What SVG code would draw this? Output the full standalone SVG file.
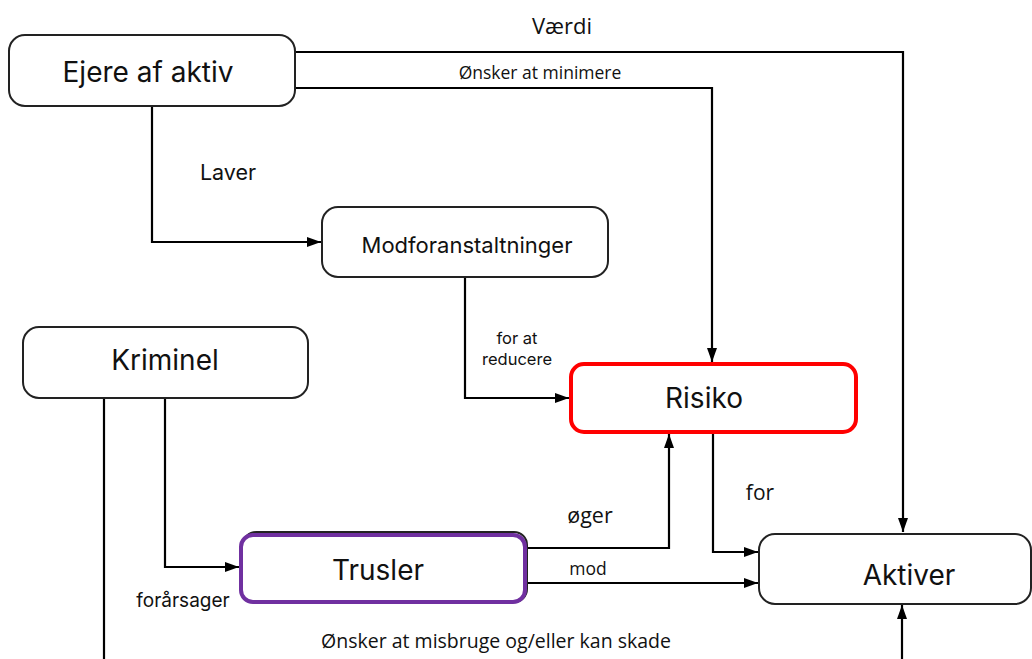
<svg xmlns="http://www.w3.org/2000/svg" width="1032" height="659" viewBox="0 0 1032 659">
<style>
.box{fill:#fff;stroke:#222;stroke-width:2}
.nl{font-family:Inter,"Noto Sans",sans-serif;fill:#111;text-anchor:middle;dominant-baseline:central}
.cl{font-family:"Open Sans","Noto Sans",sans-serif;fill:#111;text-anchor:middle;dominant-baseline:central}
.il{font-family:Inter,"Noto Sans",sans-serif}
.ln{fill:none;stroke:#000;stroke-width:2.2}
</style>
<defs>
<marker id="ar" viewBox="0 0 14 10" refX="14" refY="5" markerWidth="14" markerHeight="10" markerUnits="userSpaceOnUse" orient="auto">
<path d="M0,0 L14,5 L0,10 Z" fill="#000"/>
</marker>
</defs>
<rect width="1032" height="659" fill="#fff"/>
<g id="connectors">
<path class="ln" d="M295,52 H903 V532" marker-end="url(#ar)"/>
<path class="ln" d="M295,88 H712 V362" marker-end="url(#ar)"/>
<path class="ln" d="M152,106 V242 H321" marker-end="url(#ar)"/>
<path class="ln" d="M465,277 V398 H569" marker-end="url(#ar)"/>
<path class="ln" d="M104,396 V659"/>
<path class="ln" d="M165,398 V567 H239" marker-end="url(#ar)"/>
<path class="ln" d="M527,548 H669 V434" marker-end="url(#ar)"/>
<path class="ln" d="M527,583 H758" marker-end="url(#ar)"/>
<path class="ln" d="M713,433 V552 H758" marker-end="url(#ar)"/>
<path class="ln" d="M902,659 V605" marker-end="url(#ar)"/>
<text class="cl" x="562" y="25" font-size="22">Værdi</text>
<text class="cl" x="540" y="72" font-size="17.5">Ønsker at minimere</text>
<text class="cl il" x="228" y="172" font-size="21.5">Laver</text>
<text class="cl il" x="517" y="338" font-size="16.5">for at</text>
<text class="cl il" x="517" y="359" font-size="16.5">reducere</text>
<text class="cl il" x="183" y="600" font-size="19">forårsager</text>
<text class="cl" x="590" y="514" font-size="21.5">øger</text>
<text class="cl" x="588" y="568" font-size="17.5">mod</text>
<text class="cl" x="760" y="492" font-size="21">for</text>
<text class="cl" x="496" y="640" font-size="19.5">Ønsker at misbruge og/eller kan skade</text>
</g>
<g id="ejere">
<rect class="box" x="9" y="35" width="286" height="71" rx="16"/>
<text class="nl" x="148" y="72" font-size="28">Ejere af aktiv</text>
</g>
<g id="modforanstaltninger">
<rect class="box" x="322" y="207" width="286" height="70" rx="16"/>
<text class="nl" x="467" y="245" font-size="22">Modforanstaltninger</text>
</g>
<g id="risiko">
<rect x="571" y="364" width="285" height="68" rx="13" fill="#fff" stroke="#f00" stroke-width="4"/>
<text class="nl" x="704" y="398" font-size="28">Risiko</text>
</g>
<g id="kriminel">
<rect class="box" x="23" y="327" width="285" height="71" rx="16"/>
<text class="nl" x="165" y="360" font-size="28">Kriminel</text>
</g>
<g id="trusler">
<rect x="243" y="532" width="284" height="70" rx="13" fill="none" stroke="#222" stroke-width="2"/>
<rect x="241" y="535" width="284" height="67" rx="12" fill="#fff" stroke="#7030a0" stroke-width="4"/>
<text class="nl" x="378" y="570" font-size="28">Trusler</text>
</g>
<g id="aktiver">
<rect class="box" x="759" y="534" width="272" height="70" rx="16"/>
<text class="nl" x="909" y="575" font-size="28">Aktiver</text>
</g>
</svg>
